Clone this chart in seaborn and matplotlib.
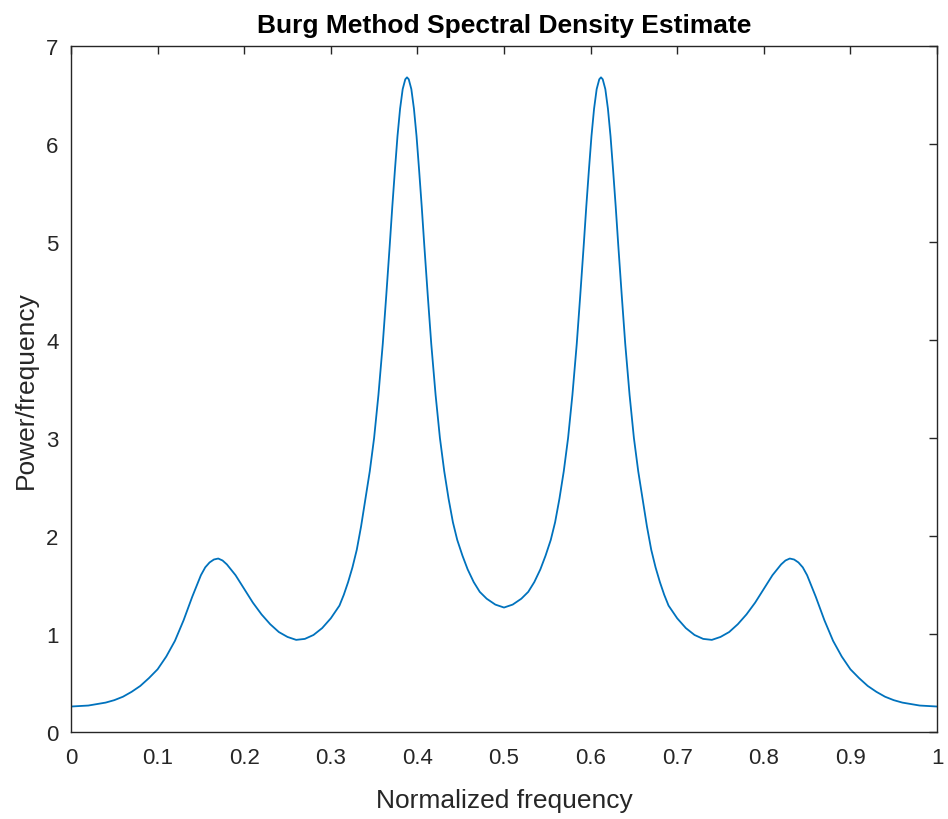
import matplotlib
matplotlib.use("Agg")
import matplotlib.pyplot as plt
import pandas as pd
import seaborn as sns

# values (normalized frequency, power/frequency)
freq_left = [0.000, 0.010, 0.020, 0.030, 0.040, 0.050, 0.060, 0.070, 0.080, 0.090,
             0.100, 0.110, 0.120, 0.130, 0.140, 0.150, 0.155, 0.160, 0.165, 0.170,
             0.175, 0.180, 0.190, 0.200, 0.210, 0.220, 0.230, 0.240, 0.250, 0.260,
             0.270, 0.280, 0.290, 0.300, 0.310, 0.315, 0.320, 0.325, 0.330, 0.335,
             0.340, 0.345, 0.350, 0.355, 0.360, 0.364, 0.368, 0.371, 0.374, 0.377,
             0.380, 0.383, 0.386, 0.388, 0.390, 0.393, 0.396, 0.399, 0.402, 0.405,
             0.408, 0.412, 0.416, 0.421, 0.426, 0.431, 0.436, 0.441, 0.446, 0.452,
             0.458, 0.465, 0.472, 0.480, 0.490, 0.500]
power_left = [0.26, 0.265, 0.27, 0.285, 0.30, 0.325, 0.36, 0.41, 0.47, 0.55,
              0.64, 0.77, 0.93, 1.14, 1.38, 1.60, 1.68, 1.73, 1.76, 1.77,
              1.75, 1.71, 1.60, 1.46, 1.32, 1.20, 1.10, 1.02, 0.97, 0.94,
              0.95, 0.99, 1.06, 1.16, 1.29, 1.40, 1.53, 1.68, 1.86, 2.10,
              2.38, 2.66, 3.00, 3.44, 3.96, 4.45, 4.96, 5.36, 5.73, 6.08,
              6.36, 6.56, 6.66, 6.68, 6.66, 6.56, 6.36, 6.08, 5.73, 5.36,
              4.96, 4.45, 3.96, 3.44, 3.00, 2.66, 2.38, 2.14, 1.96, 1.80,
              1.66, 1.53, 1.43, 1.36, 1.30, 1.27]

freq_right = [0.510, 0.520, 0.528, 0.535, 0.542, 0.548, 0.554, 0.559, 0.564, 0.569,
              0.574, 0.579, 0.584, 0.588, 0.592, 0.595, 0.598, 0.601, 0.604, 0.607,
              0.610, 0.612, 0.614, 0.617, 0.620, 0.623, 0.626, 0.629, 0.632, 0.636,
              0.640, 0.645, 0.650, 0.655, 0.660, 0.665, 0.670, 0.675, 0.680, 0.685,
              0.690, 0.700, 0.710, 0.720, 0.730, 0.740, 0.750, 0.760, 0.770, 0.780,
              0.790, 0.800, 0.810, 0.820, 0.825, 0.830, 0.835, 0.840, 0.845, 0.850,
              0.860, 0.870, 0.880, 0.890, 0.900, 0.910, 0.920, 0.930, 0.940, 0.950,
              0.960, 0.970, 0.980, 0.990, 1.000]
power_right = [1.30, 1.36, 1.43, 1.53, 1.66, 1.80, 1.96, 2.14, 2.38, 2.66,
               3.00, 3.44, 3.96, 4.45, 4.96, 5.36, 5.73, 6.08, 6.36, 6.56,
               6.66, 6.68, 6.66, 6.56, 6.36, 6.08, 5.73, 5.36, 4.96, 4.45,
               3.96, 3.44, 3.00, 2.66, 2.38, 2.10, 1.86, 1.68, 1.53, 1.40,
               1.29, 1.16, 1.06, 0.99, 0.95, 0.94, 0.97, 1.02, 1.10, 1.20,
               1.32, 1.46, 1.60, 1.71, 1.75, 1.77, 1.76, 1.73, 1.68, 1.60,
               1.38, 1.14, 0.93, 0.77, 0.64, 0.55, 0.47, 0.41, 0.36, 0.325,
               0.30, 0.285, 0.27, 0.265, 0.26]

xticks = [0, 0.1, 0.2, 0.3, 0.4, 0.5, 0.6, 0.7, 0.8, 0.9, 1]
xtick_labels = ["0", "0.1", "0.2", "0.3", "0.4", "0.5", "0.6", "0.7", "0.8", "0.9", "1"]
yticks = [0, 1, 2, 3, 4, 5, 6, 7]

df = pd.DataFrame({"freq": freq_left + freq_right,
                   "power": power_left + power_right})

sns.set_theme(style="white")
plt.rcParams['font.family'] = ['Liberation Sans', 'DejaVu Sans']

fig = plt.figure(figsize=(9.48, 8.2), dpi=100)
ax = fig.add_axes([0.0749, 0.1061, 0.9135, 0.8366])

sns.lineplot(data=df, x="freq", y="power", ax=ax, color="#0072BD",
             linewidth=1.3, estimator=None, sort=True)

ax.set_xlim(0, 1)
ax.set_ylim(0, 7)
ax.set_xticks(xticks)
ax.set_xticklabels(xtick_labels)
ax.set_yticks(yticks)

grey = "#262626"
for s in ax.spines.values():
    s.set_visible(True)
    s.set_color(grey)
    s.set_linewidth(1.0)
ax.tick_params(direction="in", length=6, width=1.0, colors=grey,
               labelsize=16, top=True, right=True)
ax.tick_params(axis="x", pad=11)
ax.tick_params(axis="y", pad=9)

ax.set_xlabel("Normalized frequency", fontsize=19, color=grey, labelpad=14)
ax.set_ylabel("Power/frequency", fontsize=19, color=grey, labelpad=6)
ax.set_title("Burg Method Spectral Density Estimate", fontsize=19,
             fontweight="bold", color="black", pad=10)

fig.savefig("out.png", dpi=100)
